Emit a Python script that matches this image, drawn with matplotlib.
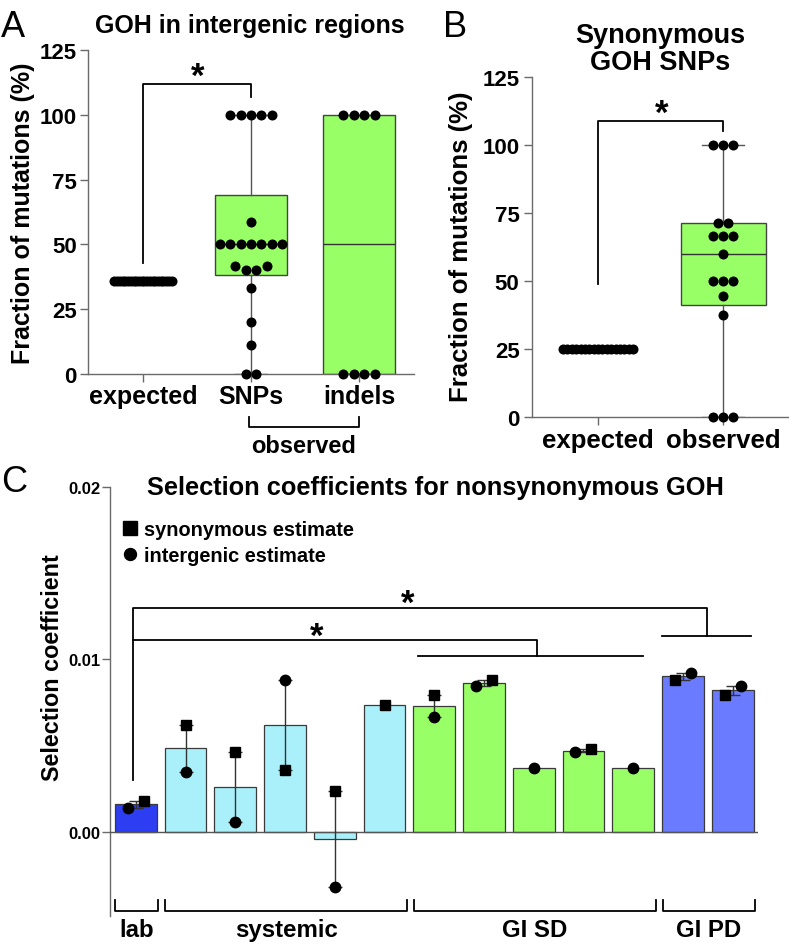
import numpy as np
import matplotlib
matplotlib.use('Agg')
import matplotlib.pyplot as plt
from matplotlib.lines import Line2D

plt.rcParams['font.family'] = ['Liberation Sans', 'DejaVu Sans']
plt.rcParams['font.weight'] = 'bold'

# ---- panel A: GOH in intergenic regions ----
a_categories = ['expected', 'SNPs', 'indels']
a_expected = [36.0] * 22
a_snps = [100, 100, 100, 100, 100, 58.8, 50, 50, 50, 50, 50, 50, 50,
          41.7, 41.7, 40.0, 40.0, 33.3, 20.0, 11.1, 0, 0]
a_indels = [100, 100, 100, 100, 0, 0, 0, 0]
a_box_q1 = [38.2, 0]
a_box_med = [50, 50]
a_box_q3 = [69.2, 100]
a_whis_lo = [0, 0]
a_whis_hi = [100, 100]

# ---- panel B: synonymous GOH SNPs ----
b_categories = ['expected', 'observed']
b_expected = [25.0] * 17
b_observed = [100, 100, 100, 71.4, 71.4, 66.7, 66.7, 66.7, 60.0,
              50, 50, 50, 44.4, 37.5, 0, 0, 0]
b_box_q1 = [41.0]
b_box_med = [60.0]
b_box_q3 = [71.3]
b_whis_lo = [0]
b_whis_hi = [100]

# ---- panel C: selection coefficients ----
c_syn = [0.00180, 0.00620, 0.00459, 0.00359, 0.00237, 0.00737, 0.00791,
         0.00882, np.nan, 0.00481, np.nan, 0.00882, 0.00791]
c_int = [0.00139, 0.00347, 0.00058, 0.00878, -0.00323, np.nan, 0.00666,
         0.00845, 0.00367, 0.00459, 0.00367, 0.00921, 0.00847]
c_groups = ['lab', 'systemic', 'GI SD', 'GI PD']
c_group_sizes = [1, 5, 5, 2]
c_group_colors = ['#2d3df2', '#aaf0fa', '#99ff66', '#6b7bff']
# horizontal nudge of the square marker where the two estimates overlap
c_nudge = [0.16, 0, 0, 0, 0, 0, 0, 0.16, 0, 0.16, 0, -0.16, -0.16]

W, H = 789, 945
GRAY = '#6a6a6a'
GREEN = '#99ff66'


def fx(px):
    return px / W


def fy(py):
    return 1 - py / H


def swarm(values, step, dot_h, max_half):
    # simple beeswarm: equal values side by side, open a gap on clashes
    vals = np.asarray(values, float)
    xs = np.zeros(len(vals))
    placed = []
    for u in sorted(set(vals)):
        idx = np.flatnonzero(vals == u)
        n = len(idx)
        s = step if n < 2 else min(step, 2 * max_half / (n - 1))
        off = (np.arange(n) - (n - 1) / 2) * s
        for _ in range(10):
            if not placed:
                break
            d = min(((o - px) / step) ** 2 + ((u - py) / dot_h) ** 2
                    for o in off for px, py in placed)
            if d >= 0.95:
                break
            off = off + np.sign(off) * step
        xs[idx] = off
        placed += [(o, u) for o in off]
    return xs


def style_axes(ax):
    for side in ['top', 'right']:
        ax.spines[side].set_visible(False)
    for side in ['left', 'bottom']:
        ax.spines[side].set_color(GRAY)
        ax.spines[side].set_linewidth(1.0)
    ax.tick_params(colors='black', length=6, width=1.0)
    ax.tick_params(axis='both', color=GRAY)


fig = plt.figure(figsize=(W / 100, H / 100), dpi=100)

# ================= A =================
axA = fig.add_axes([fx(88), fy(375), fx(414 - 88), (375 - 51) / H])
style_axes(axA)
statsA = [dict(q1=a_box_q1[i], med=a_box_med[i], q3=a_box_q3[i],
               whislo=a_whis_lo[i], whishi=a_whis_hi[i], fliers=[])
          for i in range(2)]
axA.bxp(statsA, positions=[1, 2], widths=0.67, capwidths=0.3,
        showfliers=False, patch_artist=True,
        boxprops=dict(facecolor=GREEN, edgecolor='#444444', linewidth=1.0),
        medianprops=dict(color='#333333', linewidth=1.0),
        whiskerprops=dict(color='#555555', linewidth=1.0),
        capprops=dict(color='#555555', linewidth=1.0), zorder=1)
for pos, data, mh in [(0, a_expected, 0.265), (1, a_snps, 0.31), (2, a_indels, 0.31)]:
    off = swarm(data, 0.097, 4.05, mh)
    axA.scatter(pos + off, data, s=52, color='black', zorder=3,
                clip_on=False, linewidths=0)
axA.set_xlim(-0.51, 2.51)
axA.set_ylim(0, 125)
axA.set_yticks([0, 25, 50, 75, 100, 125])
axA.set_xticks([0, 1, 2])
axA.set_xticklabels(a_categories)
axA.tick_params(axis='y', labelsize=16, pad=2)
axA.tick_params(axis='x', labelsize=18, pad=1)
axA.plot([0, 0, 1, 1], [43, 112, 112, 107], color='black', lw=1.3, clip_on=False)
axA.text(0.51, 111, '*', ha='center', va='baseline', fontsize=25)
axA.plot([0.98, 0.98, 2.0, 2.0], [-16.6, -20.5, -20.5, -16.6], color='black',
         lw=1.3, clip_on=False)
axA.text(1.49, -30.1, 'observed', ha='center', va='baseline', fontsize=17)
fig.text(fx(250), fy(33), 'GOH in intergenic regions', ha='center',
         va='baseline', fontsize=18)
fig.text(fx(23), fy(213), 'Fraction of mutations (%)', rotation=90,
         ha='center', va='center', fontsize=18)
fig.text(fx(13), fy(37), 'A', ha='center', va='baseline', fontsize=26,
         fontweight='normal')

# ================= B =================
axB = fig.add_axes([fx(532), fy(418), fx(789 - 532), (418 - 78) / H])
style_axes(axB)
statsB = [dict(q1=b_box_q1[0], med=b_box_med[0], q3=b_box_q3[0],
               whislo=b_whis_lo[0], whishi=b_whis_hi[0], fliers=[])]
axB.bxp(statsB, positions=[1], widths=0.68, capwidths=0.34,
        showfliers=False, patch_artist=True,
        boxprops=dict(facecolor=GREEN, edgecolor='#444444', linewidth=1.0),
        medianprops=dict(color='#333333', linewidth=1.0),
        whiskerprops=dict(color='#555555', linewidth=1.0),
        capprops=dict(color='#555555', linewidth=1.0), zorder=1)
for pos, data, mh in [(0, b_expected, 0.28), (1, b_observed, 0.32)]:
    off = swarm(data, 0.08, 3.7, mh)
    axB.scatter(pos + off, data, s=52, color='black', zorder=3,
                clip_on=False, linewidths=0)
axB.set_xlim(-0.528, 1.528)
axB.set_ylim(0, 125)
axB.set_yticks([0, 25, 50, 75, 100, 125])
axB.set_xticks([0, 1])
axB.set_xticklabels(b_categories)
axB.tick_params(axis='y', labelsize=16, pad=3)
axB.tick_params(axis='x', labelsize=18.5, pad=2)
axB.plot([0, 0, 1, 1], [49, 109, 109, 105], color='black', lw=1.3, clip_on=False)
axB.text(0.51, 108, '*', ha='center', va='baseline', fontsize=25)
fig.text(fx(660), fy(70), 'Synonymous\nGOH SNPs', ha='center',
         va='baseline', fontsize=19.5, linespacing=1.05)
fig.text(fx(461), fy(247), 'Fraction of mutations (%)', rotation=90,
         ha='center', va='center', fontsize=18.5)
fig.text(fx(455), fy(37), 'B', ha='center', va='baseline', fontsize=26,
         fontweight='normal')

# ================= C =================
axC = fig.add_axes([fx(110), fy(917), fx(758 - 110), (917 - 488) / H])
style_axes(axC)
axC.spines['bottom'].set_visible(False)
syn = np.array(c_syn)
itg = np.array(c_int)
means = np.nanmean(np.vstack([syn, itg]), axis=0)
both = ~np.isnan(syn) & ~np.isnan(itg)
x = np.arange(len(means))
colors = np.repeat(c_group_colors, c_group_sizes)
axC.bar(x, means, width=0.84, color=colors, edgecolor='#3a3a3a', lw=0.9, zorder=2)
axC.axhline(0, color='#555555', lw=1.0, zorder=3)
err = np.abs(syn - itg) / 2
axC.errorbar(x[both], means[both], yerr=err[both], fmt='none', ecolor='#333333',
             elinewidth=1.0, capsize=5, capthick=1.0, zorder=4)
nudge = np.array(c_nudge)
axC.plot(x + nudge, syn, 's', color='black', ms=7, zorder=5, clip_on=False)
axC.plot(x - nudge, itg, 'o', color='black', ms=7.5, zorder=5, clip_on=False)
axC.set_xlim(-0.52, 12.51)
axC.set_ylim(-0.0049, 0.02)
axC.set_xticks([])
axC.set_yticks([0, 0.01, 0.02])
axC.set_yticklabels(['0.00', '0.01', '0.02'])
axC.tick_params(axis='y', labelsize=12, pad=1)

# significance brackets
axC.plot([-0.05, -0.05, 11.48, 11.48], [0.0030, 0.0130, 0.0130, 0.01138],
         color='black', lw=1.3)
axC.plot([10.58, 12.37], [0.01138, 0.01138], color='black', lw=1.3)
axC.plot([-0.05, 8.07, 8.07], [0.0111, 0.0111, 0.0102], color='black', lw=1.3)
axC.plot([5.68, 10.2], [0.0102, 0.0102], color='black', lw=1.3)
axC.text(5.47, 0.0127, '*', ha='center', va='baseline', fontsize=25)
axC.text(3.64, 0.0108, '*', ha='center', va='baseline', fontsize=25)

# group brackets under the bars
start = 0
for name, n in zip(c_groups, c_group_sizes):
    lo, hi = start - 0.41, start + n - 1 + 0.45
    axC.plot([lo, lo, hi, hi], [-0.0040, -0.0046, -0.0046, -0.0040],
             color='black', lw=1.3, clip_on=False)
    axC.text((lo + hi) / 2, -0.00606, name, ha='center', va='baseline',
             fontsize=17.3)
    start += n

handles = [Line2D([], [], marker='s', color='black', ls='none', ms=10),
           Line2D([], [], marker='o', color='black', ls='none', ms=8.6)]
axC.legend(handles, ['synonymous estimate', 'intergenic estimate'],
           loc='upper left', bbox_to_anchor=(0.02, 0.923), frameon=False,
           borderaxespad=0, borderpad=0, handlelength=0.7, handletextpad=0.35,
           labelspacing=0.35, prop=dict(size=14.4, weight='bold'))

fig.text(fx(435), fy(495), 'Selection coefficients for nonsynonymous GOH',
         ha='center', va='baseline', fontsize=18.3)
fig.text(fx(53), fy(668), 'Selection coefficient', rotation=90,
         ha='center', va='center', fontsize=16.8)
fig.text(fx(14), fy(492), 'C', ha='center', va='baseline', fontsize=26,
         fontweight='normal')

fig.savefig('out.png', dpi=100)
